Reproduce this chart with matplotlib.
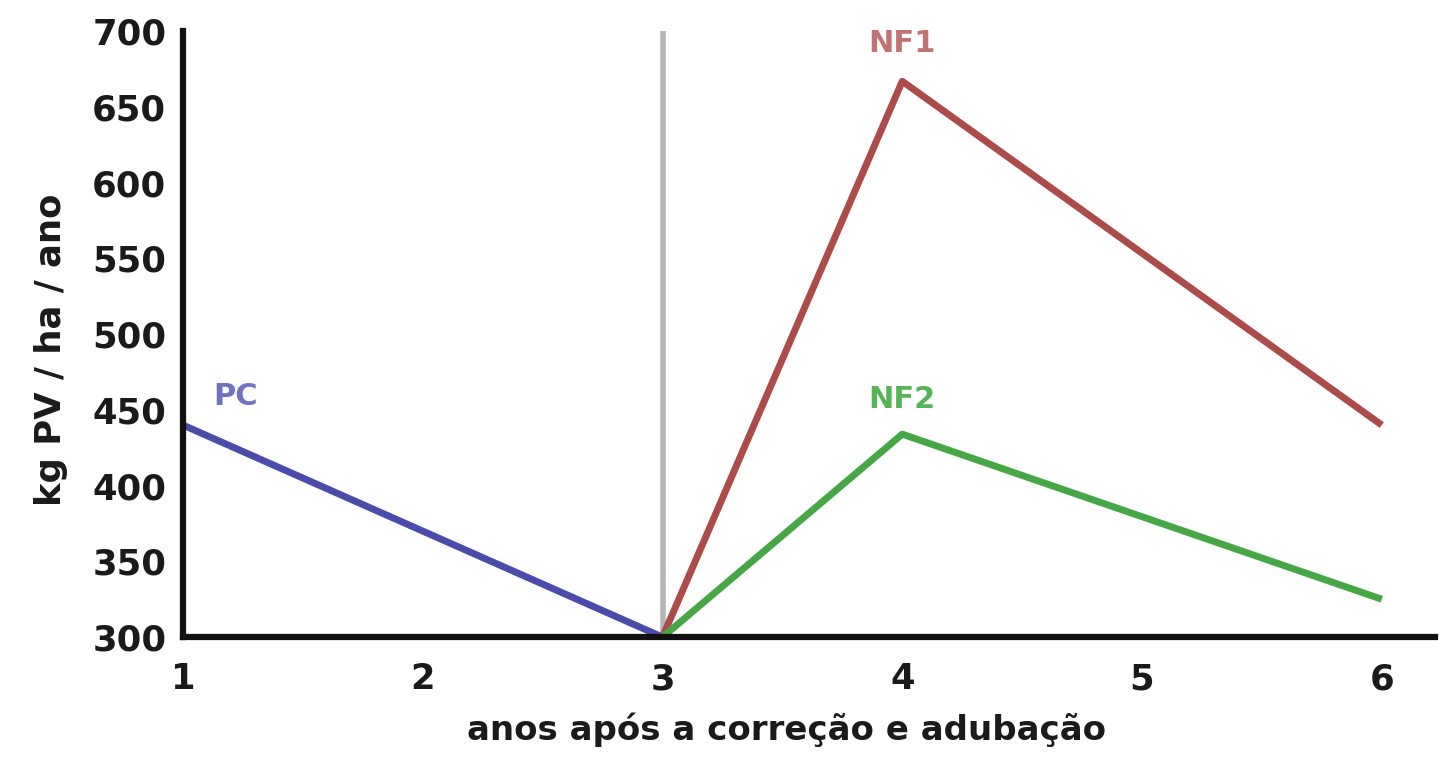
import matplotlib
matplotlib.use('Agg')
import matplotlib.pyplot as plt

# data
anos_pc = [1, 3]
pc = [440, 300]
anos_nf = [3, 4, 6]
nf1 = [300, 667, 440]
nf2 = [300, 434, 325]

xticks = [1, 2, 3, 4, 5, 6]
yticks = [300, 350, 400, 450, 500, 550, 600, 650, 700]

plt.rcParams['font.family'] = ['DejaVu Sans']
plt.rcParams['font.weight'] = 'bold'

fig = plt.figure(figsize=(14.49, 7.63), dpi=100)
ax = fig.add_axes([0.1263, 0.165, 0.8637, 0.794])

ax.plot([3, 3], [300, 700], color='#b5b5b5', lw=4, zorder=1)
ax.plot(anos_pc, pc, color='#4b4bab', lw=5, solid_capstyle='butt', zorder=2)
ax.plot(anos_nf, nf1, color='#ad4a4a', lw=5, solid_capstyle='butt', zorder=2)
ax.plot(anos_nf, nf2, color='#45a845', lw=5, solid_capstyle='butt', zorder=2)

ax.text(1.22, 459, 'PC', color='#7272c2', fontsize=22, fontweight='bold', ha='center', va='center')
ax.text(4.0, 692, 'NF1', color='#c27272', fontsize=22, fontweight='bold', ha='center', va='center')
ax.text(4.0, 457, 'NF2', color='#55b455', fontsize=22, fontweight='bold', ha='center', va='center')

ax.set_xlim(1, 6.22)
ax.set_ylim(300, 700)
ax.set_xticks(xticks)
ax.set_yticks(yticks)
ax.tick_params(length=0, labelsize=25.5, colors='#1a1a1a')
ax.tick_params(axis='x', pad=18)
ax.tick_params(axis='y', pad=12)
for lab in ax.get_xticklabels() + ax.get_yticklabels():
    lab.set_fontweight('bold')

ax.spines['top'].set_visible(False)
ax.spines['right'].set_visible(False)
ax.spines['left'].set_linewidth(4.5)
ax.spines['bottom'].set_linewidth(4.5)
ax.spines['left'].set_color('#111111')
ax.spines['bottom'].set_color('#111111')

ax.set_xlabel('anos após a correção e adubação', fontsize=24.5, fontweight='bold', color='#1a1a1a')
ax.set_ylabel('kg PV / ha / ano', fontsize=25.5, fontweight='bold', color='#1a1a1a')
ax.xaxis.set_label_coords(0.482, -0.124)
ax.yaxis.set_label_coords(-0.092, 0.474)

fig.savefig('out.png', dpi=100, facecolor='white')
